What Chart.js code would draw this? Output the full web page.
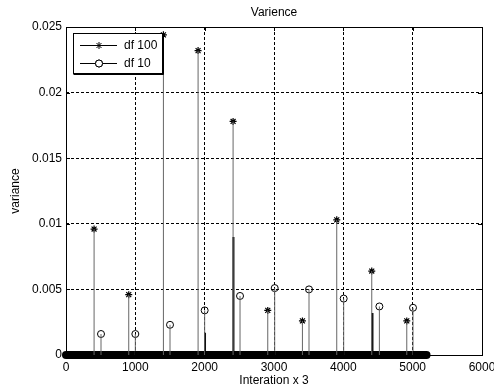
<!DOCTYPE html>
<html>
<head>
<meta charset="utf-8">
<script src="https://cdn.jsdelivr.net/npm/chart.js@4"></script>
<style>
  body { margin: 0; background: #fff; }
  canvas { display: block; }
</style>
</head>
<body>
<canvas id="c" width="494" height="389"></canvas>
<script>
const xTicks = [0, 1000, 2000, 3000, 4000, 5000, 6000];
const yTicks = [0, 0.005, 0.01, 0.015, 0.02, 0.025];

const df100X = [405, 905, 1405, 1905, 2410, 2910, 3410, 3905, 4410, 4915];
const df100Y = [0.0096, 0.0046, 0.0244, 0.0232, 0.0178, 0.0034, 0.0026, 0.0103, 0.0064, 0.0026];

const df10X = [505, 1000, 1500, 2000, 2510, 3010, 3505, 4005, 4520, 5005];
const df10Y = [0.0016, 0.0016, 0.0023, 0.0034, 0.0045, 0.0051, 0.0050, 0.0043, 0.0037, 0.0036];

// short dark stems that sit on top of a few of the others
const extraX = [2005, 2415, 4420];
const extraY = [0.0017, 0.0090, 0.0032];

// run of zero values along the axis (dense markers → thick band)
const zeroX = [0, 5200];
const zeroY = [0, 0];

const FONT = 'Liberation Sans, Arial, sans-serif';

function stems(xs, ys) {
  const out = [];
  xs.forEach((x, i) => {
    out.push({x: x, y: 0}, {x: x, y: ys[i]}, {x: x, y: null});
  });
  return out;
}
function pts(xs, ys) { return xs.map((x, i) => ({x: x, y: ys[i]})); }

// — title, axis labels, box, inner ticks and legend —
const decor = {
  id: 'decor',
  afterDraw(chart) {
    const c = chart.ctx, a = chart.chartArea;
    const sx = chart.scales.x, sy = chart.scales.y;
    c.save();
    c.strokeStyle = '#000';
    c.lineWidth = 1;
    c.strokeRect(Math.round(a.left) + 0.5, Math.round(a.top) + 0.5,
      Math.round(a.right - a.left), Math.round(a.bottom - a.top));
    c.beginPath();
    xTicks.forEach(v => {
      const p = Math.round(sx.getPixelForValue(v)) + 0.5;
      c.moveTo(p, a.top); c.lineTo(p, a.top + 4);
      c.moveTo(p, a.bottom); c.lineTo(p, a.bottom - 4);
    });
    yTicks.forEach(v => {
      const p = Math.round(sy.getPixelForValue(v)) + 0.5;
      c.moveTo(a.left, p); c.lineTo(a.left + 4, p);
      c.moveTo(a.right, p); c.lineTo(a.right - 4, p);
    });
    c.stroke();

    c.fillStyle = '#000';
    c.font = '12px ' + FONT;
    c.textAlign = 'center';
    c.textBaseline = 'middle';
    c.fillText('Varience', (a.left + a.right) / 2, 13);
    c.fillText('Interation x 3', (a.left + a.right) / 2, 381);
    c.save();
    c.translate(16, (a.top + a.bottom) / 2);
    c.rotate(-Math.PI / 2);
    c.fillText('variance', 0, 0);
    c.restore();

    // legend
    const lx = 73.5, ly = 33.5, lw = 89, lh = 40;
    c.fillStyle = '#fff';
    c.fillRect(lx, ly, lw, lh);
    c.strokeRect(lx, ly, lw, lh);
    c.beginPath();
    c.moveTo(lx + lw + 1, ly); c.lineTo(lx + lw + 1, ly + lh + 1);
    c.lineTo(lx, ly + lh + 1);
    c.stroke();
    const rows = [{label: 'df 100', style: 'star', y: 45}, {label: 'df 10', style: 'circle', y: 63}];
    rows.forEach(r => {
      c.strokeStyle = '#000';
      c.beginPath();
      c.moveTo(80, r.y + 0.5); c.lineTo(117, r.y + 0.5);
      c.stroke();
      Chart.helpers.drawPoint(c, {pointStyle: r.style, radius: 3.5, borderWidth: 1}, 99, r.y + 0.5);
      if (r.style === 'circle') {
        c.fillStyle = '#fff';
        c.beginPath(); c.arc(99, r.y + 0.5, 3.5, 0, Math.PI * 2); c.fill(); c.stroke();
      }
      c.fillStyle = '#000';
      c.textAlign = 'left';
      c.fillText(r.label, 124, r.y + 1);
    });
    c.restore();
  }
};

const ctx = document.getElementById('c').getContext('2d');
new Chart(ctx, {
  type: 'scatter',
  data: {
    datasets: [
      {
        label: 'stems df 100',
        data: stems(df100X, df100Y),
        showLine: true, spanGaps: false,
        borderColor: '#666', borderWidth: 1,
        pointRadius: 0
      },
      {
        label: 'stems df 10',
        data: stems(df10X, df10Y),
        showLine: true, spanGaps: false,
        borderColor: '#666', borderWidth: 1,
        pointRadius: 0
      },
      {
        label: 'extra',
        data: stems(extraX, extraY),
        showLine: true, spanGaps: false,
        borderColor: '#000', borderWidth: 2,
        pointRadius: 0
      },
      {
        label: 'zeros',
        data: pts(zeroX, zeroY),
        showLine: true,
        borderColor: '#000', borderWidth: 8,
        borderCapStyle: 'round',
        pointRadius: 0,
        clip: false
      },
      {
        label: 'df 100',
        data: pts(df100X, df100Y),
        pointStyle: 'star',
        pointRadius: 3.5,
        borderColor: '#000', borderWidth: 1.2,
        backgroundColor: '#000'
      },
      {
        label: 'df 10',
        data: pts(df10X, df10Y),
        pointStyle: 'circle',
        pointRadius: 3.5,
        borderColor: '#000', borderWidth: 1,
        backgroundColor: 'rgba(0,0,0,0)'
      }
    ]
  },
  options: {
    responsive: false,
    animation: false,
    events: [],
    layout: { padding: { top: 27, right: 12, left: 0, bottom: 0 } },
    plugins: {
      legend: { display: false },
      tooltip: { enabled: false },
      title: { display: false }
    },
    scales: {
      x: {
        type: 'linear',
        min: 0, max: 6000,
        afterBuildTicks: s => { s.ticks = xTicks.map(v => ({value: v})); },
        afterFit: s => { s.height = 34; s.paddingLeft = 0; s.paddingRight = 0; },
        ticks: {
          color: '#000', padding: 5, maxRotation: 0,
          font: { family: FONT, size: 12 },
          callback: v => String(v)
        },
        grid: { color: '#000', drawTicks: false, lineWidth: 1 },
        border: { display: false, dash: [3, 2] }
      },
      y: {
        type: 'linear',
        min: 0, max: 0.025,
        afterBuildTicks: s => { s.ticks = yTicks.map(v => ({value: v})); },
        afterFit: s => { s.width = 66; s.paddingTop = 0; s.paddingBottom = 0; },
        ticks: {
          color: '#000', padding: 4,
          font: { family: FONT, size: 12 },
          callback: v => String(+v.toFixed(3))
        },
        grid: { color: '#000', drawTicks: false, lineWidth: 1 },
        border: { display: false, dash: [3, 2] }
      }
    }
  },
  plugins: [decor]
});
</script>
</body>
</html>
